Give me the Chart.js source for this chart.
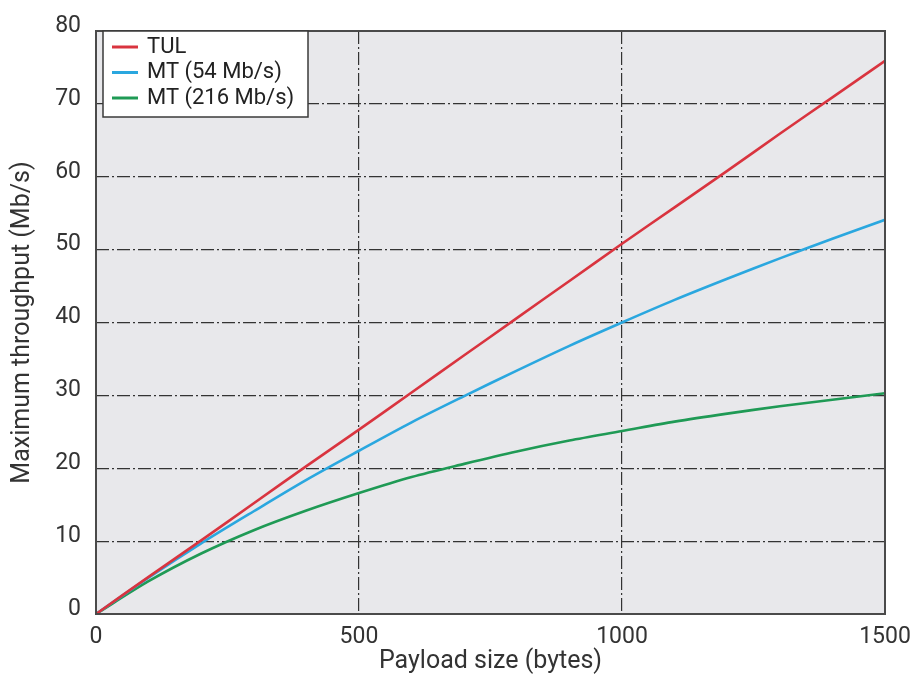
<!DOCTYPE html>
<html>
<head>
<meta charset="utf-8">
<script src="https://cdn.jsdelivr.net/npm/chart.js@4/dist/chart.umd.min.js"></script>
<style>
  html, body { margin: 0; padding: 0; background: #fff; }
  canvas { display: block; }
</style>
</head>
<body>
<canvas id="throughputChart" width="914" height="679"></canvas>
<script>
// ---------------- data ----------------
const payloadBytes = [0, 100, 200, 300, 400, 500, 600, 700, 800, 900, 1000, 1100, 1200, 1300, 1400, 1500];
const tulValues    = [0, 5.1, 10.1, 15.2, 20.3, 25.3, 30.4, 35.5, 40.6, 45.7, 50.8, 55.8, 60.8, 65.9, 70.9, 75.9];
const mt54Values   = [0, 5.0, 9.7, 14.1, 18.4, 22.4, 26.3, 29.9, 33.4, 36.8, 40.0, 43.1, 46.0, 48.8, 51.5, 54.1];
const mt216Values  = [0, 4.5, 8.3, 11.5, 14.2, 16.6, 18.8, 20.6, 22.3, 23.8, 25.1, 26.4, 27.5, 28.5, 29.4, 30.3];
const seriesNames  = ["TUL", "MT (54 Mb/s)", "MT (216 Mb/s)"];
const xTicks = [0, 500, 1000, 1500];
const yTicks = [0, 10, 20, 30, 40, 50, 60, 70, 80];

const FONT = "Roboto, 'Liberation Sans', sans-serif";
const GRID_DASH = [13, 3, 2, 3];

const toPoints = vals => payloadBytes.map((x, i) => ({ x: x, y: vals[i] }));

// grey plot area + white page
const backgroundPlugin = {
    id: "plotBackground",
    beforeDraw(chart) {
        const { ctx, chartArea: a } = chart;
        ctx.save();
        ctx.fillStyle = "#ffffff";
        ctx.fillRect(0, 0, chart.width, chart.height);
        ctx.fillStyle = "#e8e8eb";
        ctx.fillRect(a.left, a.top, a.right - a.left, a.bottom - a.top);
        ctx.restore();
    },
    afterDatasetsDraw(chart) {
        const { ctx, chartArea: a } = chart;
        ctx.save();
        ctx.strokeStyle = "#4a4a4a";
        ctx.lineWidth = 2;
        ctx.strokeRect(a.left, a.top, a.right - a.left, a.bottom - a.top);
        ctx.restore();
    }
};

// boxed legend in the top-left corner, like the figure
const boxLegendPlugin = {
    id: "boxLegend",
    afterDraw(chart) {
        const { ctx, chartArea: a } = chart;
        const x0 = a.left + 7, y0 = a.top, w = 205, h = 86;
        ctx.save();
        ctx.fillStyle = "#ffffff";
        ctx.fillRect(x0, y0, w, h);
        ctx.strokeStyle = "#3a3a3a";
        ctx.lineWidth = 1.5;
        ctx.strokeRect(x0, y0, w, h);
        ctx.font = "22px " + FONT;
        ctx.textBaseline = "middle";
        chart.data.datasets.forEach((ds, i) => {
            const cy = y0 + 16 + i * 25.5;
            ctx.strokeStyle = ds.borderColor;
            ctx.lineWidth = 3;
            ctx.beginPath();
            ctx.moveTo(x0 + 9, cy);
            ctx.lineTo(x0 + 35, cy);
            ctx.stroke();
            ctx.fillStyle = "#222";
            ctx.fillText(ds.label, x0 + 44, cy);
        });
        ctx.restore();
    }
};

const innerGrid = (lastValue) => ctx =>
    (ctx.tick && (ctx.tick.value === 0 || ctx.tick.value === lastValue)) ? "rgba(0,0,0,0)" : "#333333";

new Chart(document.getElementById("throughputChart"), {
    type: "line",
    data: {
        datasets: [
            { label: seriesNames[0], data: toPoints(tulValues),   borderColor: "#d9343f" },
            { label: seriesNames[1], data: toPoints(mt54Values),  borderColor: "#2aa7df" },
            { label: seriesNames[2], data: toPoints(mt216Values), borderColor: "#1f9a55" }
        ]
    },
    options: {
        responsive: false,
        animation: false,
        layout: { padding: { top: 31, right: 29, left: 0, bottom: 0 } },
        elements: {
            point: { radius: 0 },
            line: { borderWidth: 2.6, tension: 0.3, fill: false }
        },
        plugins: {
            legend: { display: false },
            tooltip: { enabled: false }
        },
        scales: {
            x: {
                type: "linear",
                min: xTicks[0],
                max: xTicks[xTicks.length - 1],
                afterBuildTicks: s => { s.ticks = xTicks.map(v => ({ value: v })); },
                afterFit: s => { s.height = 65; s.paddingRight = 0; s.paddingLeft = 0; },
                grid: { color: innerGrid(1500), lineWidth: 1.2, drawTicks: false },
                border: { display: false, dash: GRID_DASH },
                ticks: {
                    font: { size: 23, family: FONT }, color: "#333", padding: 9, maxRotation: 0,
                    callback: v => String(v)
                },
                title: {
                    display: true,
                    text: "Payload size (bytes)",
                    font: { size: 25, family: FONT, lineHeight: 1 },
                    color: "#333",
                    padding: { top: 0, bottom: 5 }
                }
            },
            y: {
                min: yTicks[0],
                max: yTicks[yTicks.length - 1],
                afterBuildTicks: s => { s.ticks = yTicks.map(v => ({ value: v })); },
                afterFit: s => { s.width = 96; },
                grid: { color: innerGrid(80), lineWidth: 1.2, drawTicks: false },
                border: { display: false, dash: GRID_DASH },
                ticks: {
                    font: { size: 23, family: FONT }, color: "#333", padding: 15, labelOffset: -5,
                    callback: v => String(v)
                },
                title: {
                    display: true,
                    text: "Maximum throughput (Mb/s)",
                    font: { size: 25, family: FONT, lineHeight: 1 },
                    color: "#333",
                    padding: { top: 10, bottom: 0 }
                }
            }
        }
    },
    plugins: [backgroundPlugin, boxLegendPlugin]
});
</script>
</body>
</html>
